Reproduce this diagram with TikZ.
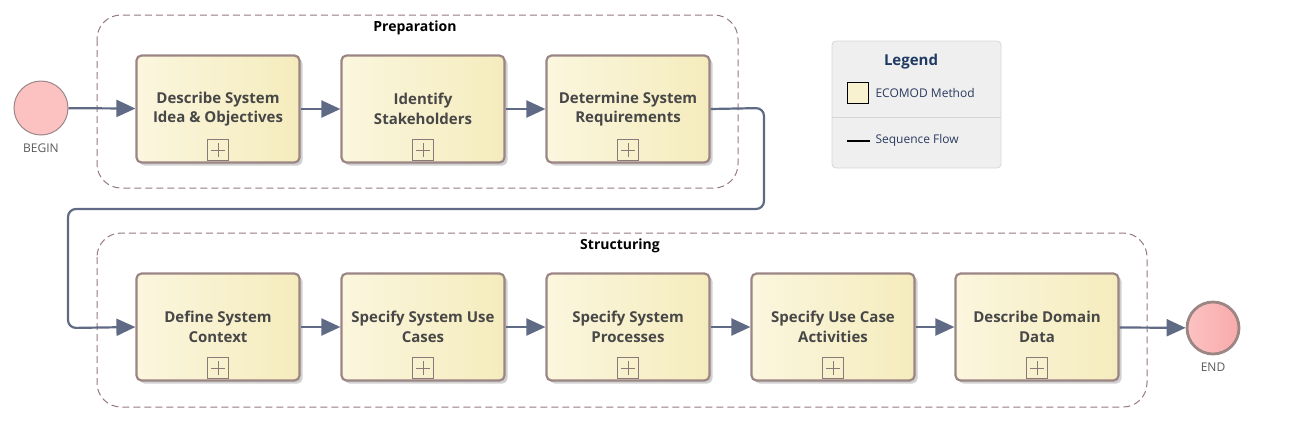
\documentclass[tikz,border=0pt]{standalone}
\usepackage{fontspec}
\setmainfont{Open Sans}
\usetikzlibrary{arrows.meta,shadows,positioning}
\definecolor{boxfillA}{HTML}{FBF6DE}
\definecolor{boxfillB}{HTML}{F5ECBD}
\definecolor{boxborder}{HTML}{9C8585}
\definecolor{flow}{HTML}{5F6A85}
\definecolor{txt}{HTML}{474747}
\definecolor{grp}{HTML}{957A82}
\definecolor{evfill}{HTML}{FCC2C2}
\definecolor{evfillB}{HTML}{F9AAAA}
\definecolor{legfill}{HTML}{EFEFEF}
\definecolor{legborder}{HTML}{D6D6D6}
\definecolor{legtitle}{HTML}{1F3A63}
\definecolor{legtext}{HTML}{2B3A5E}
\tikzset{
  x=1pt,y=-1pt,
  method/.style={draw=boxborder, line width=2.2pt, rounded corners=5pt,
    left color=boxfillA, right color=boxfillB,
    minimum width=163pt, minimum height=107pt, align=center,
    font=\bfseries\fontsize{15}{19.5}\selectfont, text=txt,
    drop shadow={shadow xshift=3pt, shadow yshift=-3pt, fill=black!30, opacity=0.6}},
  plusbox/.style={draw=boxborder!90!black, line width=0.9pt, minimum size=21pt, inner sep=0pt},
  flowline/.style={draw=flow, line width=2.2pt, -{Triangle[length=19pt,width=17pt]}, rounded corners=8pt},
  group/.style={draw=grp, dashed, dash pattern=on 7pt off 4pt, line width=1pt, rounded corners=24pt},
  grouptitle/.style={font=\bfseries\fontsize{14}{15}\selectfont, text=black},
  evlabel/.style={font=\fontsize{12}{14}\selectfont, text=txt!90},
  legtxt/.style={font=\fontsize{12}{14}\selectfont, text=legtext, anchor=west},
}
\begin{document}
\begin{tikzpicture}
\useasboundingbox (0,0) rectangle (1305,424);
% groups
\draw[group] (97,15) rectangle (738,188);
\node[grouptitle] (gprep) at (415,28) {Preparation};
\draw[group] (97,233) rectangle (1147,407);
\node[grouptitle] (gstruct) at (620,246) {Structuring};
% legend
\draw[draw=legborder, fill=legfill, rounded corners=4pt, line width=0.8pt] (832,41) rectangle (1001,168);
\node[font=\bfseries\fontsize{15}{17}\selectfont, text=legtitle] (legt) at (911,62) {Legend};
\node[draw=black, line width=1pt, fill=boxfillA!60!boxfillB, minimum size=21pt, inner sep=0pt] (legsw) at (858,93) {};
\node[legtxt] (legm) at (872,93) {ECOMOD Method};
\draw[legborder, line width=0.8pt] (832,117) -- (1001,117);
\coordinate (lfa) at (847,141);
\coordinate (lfb) at (870,141);
\draw[black, line width=2pt] (lfa) -- (lfb);
\node[legtxt] (legf) at (872,140) {Sequence Flow};
% events
\node[circle, draw=boxborder, line width=1pt, fill=evfill, minimum size=54pt, inner sep=0pt] (begin) at (41,108) {};
\node[evlabel] (beginl) at (41,148) {BEGIN};
\node[circle, draw=boxborder, line width=2.8pt, left color=evfill, right color=evfillB, minimum size=52pt, inner sep=0pt] (end) at (1213,328) {};
\node[evlabel] (endl) at (1213,367) {END};
% methods
\node[method] (m1) at (218,109) {Describe System\\Idea \& Objectives};
\node[method] (m2) at (423,109) {Identify\\Stakeholders};
\node[method] (m3) at (628,109) {Determine System\\Requirements};
\node[method] (m4) at (218,327) {Define System\\Context};
\node[method] (m5) at (423,327) {Specify System Use\\Cases};
\node[method] (m6) at (628,327) {Specify System\\Processes};
\node[method] (m7) at (833,327) {Specify Use Case\\Activities};
\node[method] (m8) at (1037,327) {Describe Domain\\Data};
\foreach \m in {m1,m2,m3,m4,m5,m6,m7,m8}{
  \node[plusbox] (\m p) at ([yshift=-41pt]\m.center) {};
  \draw[boxborder!90!black, line width=0.9pt] ([xshift=-7pt]\m p.center) -- ([xshift=7pt]\m p.center)
    ([yshift=-7pt]\m p.center) -- ([yshift=7pt]\m p.center);
}
% flows
\draw[flowline] (begin) -- (m1);
\draw[flowline] (m1) -- (m2);
\draw[flowline] (m2) -- (m3);
\draw[flowline] (m3.east) -- (764,108) -- (764,209) -- (68,209) -- (68,328) -- (m4.west);
\draw[flowline] (m4) -- (m5);
\draw[flowline] (m5) -- (m6);
\draw[flowline] (m6) -- (m7);
\draw[flowline] (m7) -- (m8);
\draw[flowline] (m8) -- (end);
\end{tikzpicture}
\end{document}
